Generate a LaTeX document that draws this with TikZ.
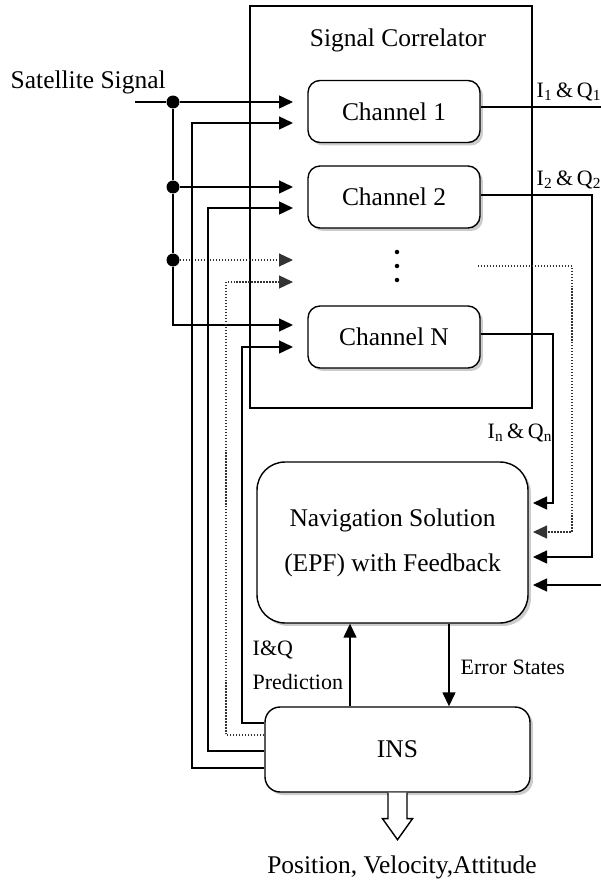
\documentclass[tikz,border=0pt]{standalone}
\usepackage{fontspec}
\setmainfont{Liberation Serif}
\usetikzlibrary{arrows.meta,shadows,positioning}

\tikzset{
  boxshadow/.style={drop shadow={shadow xshift=0.06cm, shadow yshift=-0.06cm, fill=black!40}},
  chanbox/.style={draw, fill=white, rounded corners=0.24cm, minimum width=3.44cm,
    minimum height=1.24cm, boxshadow, font=\fontsize{14.5}{17}\selectfont},
  bigbox/.style={draw, fill=white, rounded corners=0.56cm, minimum width=5.42cm,
    minimum height=3.22cm, boxshadow, align=center, font=\fontsize{14.5}{25.5}\selectfont},
  insbox/.style={draw, fill=white, rounded corners=0.3cm, minimum width=5.3cm,
    minimum height=1.7cm, boxshadow, font=\fontsize{14.5}{17}\selectfont},
  joint/.style={circle, fill, inner sep=0pt, minimum size=0.26cm},
  dotmark/.style={circle, fill, inner sep=0pt, minimum size=0.09cm},
  lbl/.style={inner sep=0pt, font=\fontsize{12.5}{15}\selectfont},
  txt/.style={inner sep=0pt, font=\fontsize{14.5}{17}\selectfont},
  dots/.style={densely dotted, line width=0.7pt, black!80},
}

\begin{document}
\begin{tikzpicture}[x=0.02cm, y=-0.02cm, line width=0.8pt,
  >={Triangle[length=0.28cm, width=0.26cm]}]
  \useasboundingbox (0,0) rectangle (601,882);
  \clip (0,0) rectangle (601,882);

  % correlator frame and channels
  \node[draw, minimum width=5.64cm, minimum height=8.04cm] (corr) at (391,207) {};
  \node[txt] (corrtitle) at (398,40) {Signal Correlator};
  \node[chanbox] (ch1) at (394,111.5) {Channel 1};
  \node[chanbox] (ch2) at (394,197) {Channel 2};
  \node[chanbox] (chn) at (394,337) {Channel N};
  \foreach \yy/\nm in {252/a, 266/b, 280/c}
    \node[dotmark] (vd\nm) at (397,\yy) {};

  \node[bigbox] (nav) at (392.5,542.5) {Navigation Solution\\(EPF) with Feedback};
  \node[insbox] (ins) at (397.5,749.5) {INS};

  \node[txt, anchor=west] (satlbl) at (10,82) {Satellite Signal};
  \node[lbl, anchor=west] (iq1) at (536,92) {I\textsubscript{1}\,\&\,Q\textsubscript{1}};
  \node[lbl, anchor=west] (iq2) at (536,180) {I\textsubscript{2}\,\&\,Q\textsubscript{2}};
  \node[lbl, anchor=west] (iqn) at (487,433) {I\textsubscript{n}\,\&\,Q\textsubscript{n}};
  \node[lbl, anchor=west, align=left, font=\fontsize{12.5}{19.3}\selectfont] (iqpred) at (252,665) {I\&Q\\Prediction};
  \node[lbl, anchor=west] (errlbl) at (460,667) {Error States};
  \node[txt] (pva) at (402,867) {Position, Velocity,Attitude};

  % arrow ends at the channel inputs
  \coordinate (sat) at (135,102);
  \coordinate (in1) at (293,102);
  \coordinate (fb1) at (293,123);
  \coordinate (in2) at (293,187);
  \coordinate (fb2) at (293,208);
  \coordinate (ind) at (293,260);
  \coordinate (fbd) at (293,282);
  \coordinate (inn) at (293,325);
  \coordinate (fbn) at (293,347);
  \node[joint] (j1) at (173,102) {};
  \node[joint] (j2) at (173,187) {};
  \node[joint] (j3) at (173,260) {};

  \draw (sat) -- (j1);
  \draw[->] (j1) -- (in1);
  \draw[->] (j2) -- (in2);
  \draw[dots, ->] (j3) -- (ind);
  \draw[->] (j1) -- (j2) -- (j3) |- (inn);

  % feedback from the INS
  \draw[->] ([yshift=-0.37cm]ins.west) -| ([xshift=-2.02cm]fb1) -- (fb1);
  \draw[->] ([yshift=-0.03cm]ins.west) -| ([xshift=-1.7cm]fb2) -- (fb2);
  \draw[dots, ->] ([yshift=0.29cm]ins.west) -| ([xshift=-1.34cm]fbd) -- (fbd);
  \draw[->] ([yshift=0.53cm]ins.west) -| ([xshift=-1.02cm]fbn) -- (fbn);

  % channel outputs into the navigation filter
  \coordinate (o1) at (533,585);
  \coordinate (o2) at (533,557);
  \coordinate (od) at (533,532);
  \coordinate (on) at (533,503);
  \coordinate (dout) at (478,266);
  \draw[->] ([yshift=0.09cm]ch1.east) -| ([xshift=1.54cm]o1) -- (o1);
  \draw[->] ([yshift=0.04cm]ch2.east) -| ([xshift=1.18cm]o2) -- (o2);
  \draw[dots, ->] (dout) -| ([xshift=0.78cm]od) -- (od);
  \draw[->] ([yshift=0.06cm]chn.east) -| ([xshift=0.4cm]on) -- (on);

  \draw[->] ([xshift=-0.95cm]ins.north) -- ([xshift=-0.95cm]ins.north |- nav.south);
  \draw[->] ([xshift=1.03cm]ins.north |- nav.south) -- ([xshift=1.03cm]ins.north);

  % hollow output arrow
  \draw[fill=white] ([xshift=-0.19cm]ins.south) -- ++(0cm,-0.52cm) -- ++(-0.11cm,0cm)
    -- ([yshift=-0.94cm]ins.south) -- ++(0.3cm,0.42cm) -- ++(-0.11cm,0cm)
    -- ([xshift=0.19cm]ins.south);
\end{tikzpicture}
\end{document}
